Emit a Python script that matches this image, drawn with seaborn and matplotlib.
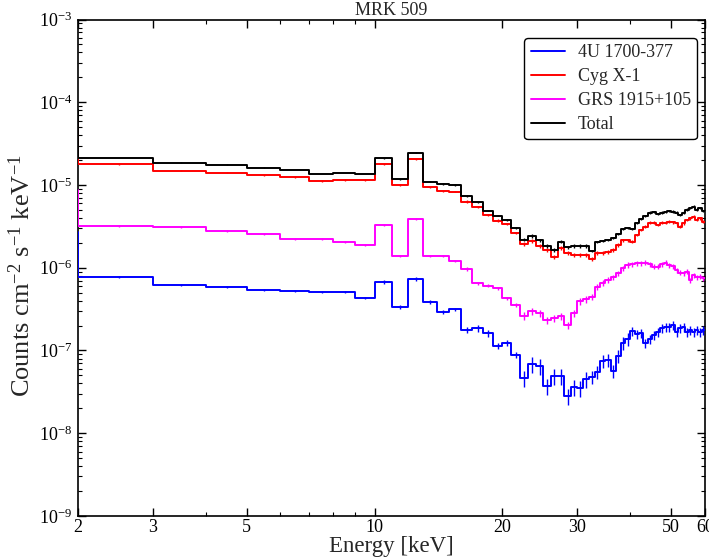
import numpy as np
import pandas as pd
import matplotlib
matplotlib.use("Agg")
import matplotlib.pyplot as plt
from matplotlib.ticker import NullFormatter
import seaborn as sns

# energy bins [keV], 1 keV wide; the first bin (1-2 keV) lies left of the plotted range
edges = np.arange(1.0, 61.0, 1.0)

# counts cm^-2 s^-1 keV^-1 per bin
blue_4u = np.array([
    27.0,
    7.73, 6.19, 5.85, 5.38, 5.24, 5.09, 5.09, 4.31,
    6.78, 3.38, 7.31, 3.89, 2.94, 3.15, 1.77, 1.85, 1.61, 1.13, 1.24, 0.882,
    0.469, 0.687, 0.650, 0.372, 0.496, 0.496, 0.282, 0.362,
    0.352, 0.452, 0.478, 0.550, 0.746, 0.768, 0.565, 0.858, 1.23, 1.38,
    1.72, 1.58, 1.63, 1.23, 1.38, 1.54, 1.67, 1.87, 1.92, 1.92,
    2.03, 1.67, 1.87, 1.92, 1.67, 1.77, 1.67, 1.77, 1.67, 1.77]) * 1e-7

red_cyg = np.array([
    6.0,
    1.79, 1.48, 1.40, 1.32, 1.25, 1.12, 1.15, 1.15,
    1.78, 1.00, 2.05, 0.938, 0.839, 0.830, 0.632, 0.542, 0.434, 0.372, 0.338, 0.263,
    0.193, 0.209, 0.183, 0.164, 0.136, 0.172, 0.150, 0.143,
    0.143, 0.143, 0.128, 0.151, 0.151, 0.155, 0.164, 0.188, 0.216, 0.216,
    0.206, 0.249, 0.286, 0.313, 0.350, 0.350, 0.329, 0.350, 0.350, 0.360,
    0.357, 0.344, 0.313, 0.344, 0.378, 0.396, 0.414, 0.378, 0.396, 0.360]) * 1e-5

magenta_grs = np.array([
    8.7,
    3.20, 3.11, 2.78, 2.56, 2.23, 2.23, 2.05, 1.88,
    3.29, 1.40, 3.85, 1.40, 1.40, 1.21, 0.966, 0.649, 0.610, 0.565, 0.427, 0.355,
    0.263, 0.300, 0.281, 0.234, 0.245, 0.261, 0.203, 0.281,
    0.396, 0.416, 0.447, 0.590, 0.660, 0.711, 0.767, 0.857, 0.985, 1.08,
    1.11, 1.13, 1.13, 1.15, 1.10, 1.03, 1.03, 1.11, 1.15, 1.08,
    1.05, 0.939, 0.871, 0.857, 0.896, 0.711, 0.817, 0.767, 0.780, 0.746]) * 1e-6

black_total = np.array([
    8.0,
    2.12, 1.85, 1.75, 1.61, 1.52, 1.36, 1.40, 1.36,
    2.10, 1.17, 2.46, 1.10, 1.03, 1.00, 0.736, 0.615, 0.492, 0.428, 0.378, 0.302,
    0.219, 0.242, 0.216, 0.183, 0.164, 0.206, 0.177, 0.183,
    0.183, 0.183, 0.159, 0.205, 0.210, 0.216, 0.229, 0.256, 0.294, 0.302,
    0.294, 0.347, 0.388, 0.422, 0.465, 0.472, 0.446, 0.465, 0.472, 0.485,
    0.478, 0.465, 0.434, 0.465, 0.506, 0.527, 0.550, 0.506, 0.527, 0.485]) * 1e-5

# fractional 1-sigma errors per bin
blue_rel = np.array([0.03] + [0.03]*8 + [0.05]*6 + [0.09]*6 + [0.22]*10 + [0.18]*8 + [0.13]*20)
red_rel = np.array([0.02] + [0.015]*8 + [0.02]*6 + [0.03]*6 + [0.055]*10 + [0.045]*8 + [0.04]*20)
magenta_rel = np.array([0.02] + [0.02]*8 + [0.03]*6 + [0.05]*6 + [0.10]*10 + [0.08]*8 + [0.07]*20)
black_rel = np.array([0.02] + [0.012]*8 + [0.018]*6 + [0.025]*6 + [0.045]*10 + [0.035]*8 + [0.03]*20)

labels = ['4U 1700-377', 'Cyg X-1', 'GRS 1915+105', 'Total']
colors = ['#0000ff', '#ff0000', '#ff00ff', '#000000']

sns.set_theme(style='ticks')
plt.rcParams['font.family'] = ['Liberation Serif', 'DejaVu Serif']
plt.rcParams['mathtext.fontset'] = 'custom'
plt.rcParams['mathtext.rm'] = 'Liberation Serif'
plt.rcParams['mathtext.it'] = 'Liberation Serif:italic'
plt.rcParams['mathtext.bf'] = 'Liberation Serif:bold'
plt.rcParams['axes.edgecolor'] = 'black'
plt.rcParams['axes.linewidth'] = 1.2

fig = plt.figure(figsize=(7.09, 5.59), dpi=100)
ax = fig.add_axes([0.110, 0.077, 0.884, 0.888])

centers = (edges[:-1] + edges[1:]) / 2
series = [(blue_4u, blue_rel), (red_cyg, red_rel), (magenta_grs, magenta_rel), (black_total, black_rel)]
for (vals, rel), lab, col in zip(series, labels, colors):
    df = pd.DataFrame({'energy': centers, 'flux': vals})
    sns.histplot(data=df, x='energy', weights='flux', bins=list(edges), element='step',
                 fill=False, color=col, linewidth=1.4, ax=ax, label=lab, zorder=3)
    ax.errorbar(centers, vals, yerr=vals * rel, fmt='none', ecolor=col,
                elinewidth=1.0, capsize=0, zorder=3)

ax.set_xscale('log')
ax.set_yscale('log')
ax.set_xlim(2, 60)
ax.set_ylim(1e-9, 1e-3)

ax.set_xticks([2, 3, 5, 10, 20, 30, 50, 60])
ax.set_xticklabels(['2', '3', '5', '10', '20', '30', '50', '60'])
ax.set_xticks([4, 6, 7, 8, 9, 40], minor=True)
ax.xaxis.set_minor_formatter(NullFormatter())

ax.tick_params(which='both', direction='in', top=True, right=True, colors='black', labelsize=13)
ax.tick_params(which='major', length=6, width=1.0, pad=4)
ax.tick_params(which='minor', length=3, width=0.8)
ax.tick_params(axis='x', which='major', pad=2)

ax.set_title('MRK 509', fontsize=13, pad=3)
ax.set_xlabel('Energy [keV]', fontsize=16.5, labelpad=0)
ax.set_ylabel(r'Counts cm$^{-2}$ s$^{-1}$ keV$^{-1}$', fontsize=19)
ax.yaxis.set_label_coords(-0.068, 0.485)

leg = ax.legend(loc='upper right', bbox_to_anchor=(0.983, 0.932), bbox_transform=fig.transFigure,
                fontsize=13, frameon=True, fancybox=True, edgecolor='black', framealpha=1,
                borderaxespad=0, labelspacing=0.38, handlelength=1.9, handletextpad=0.7,
                borderpad=0.35)
leg.get_frame().set_linewidth(1.0)

fig.savefig('out.png', dpi=100)
